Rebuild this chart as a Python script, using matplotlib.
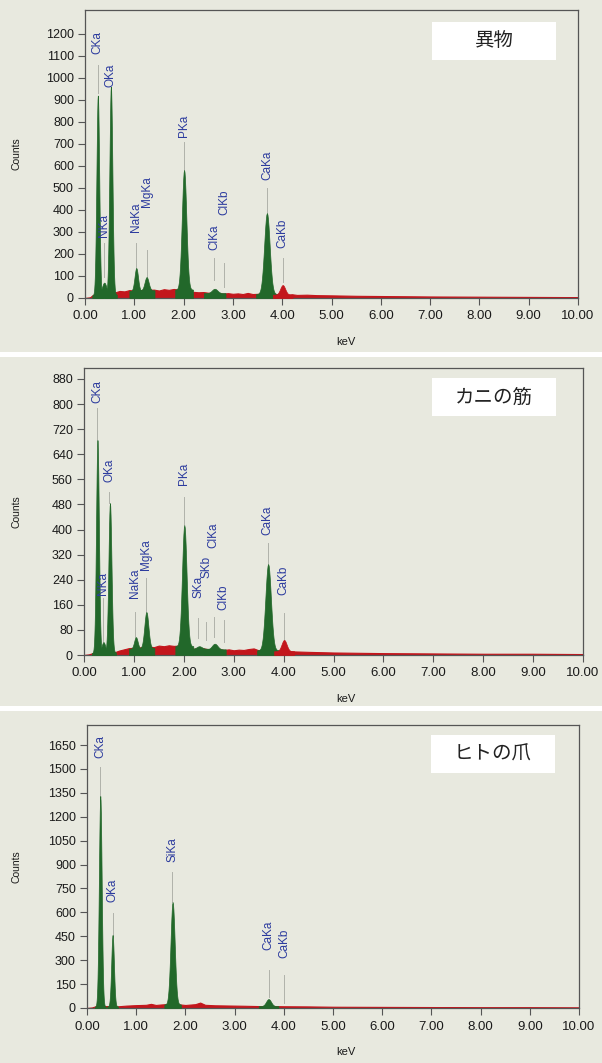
import numpy as np
import matplotlib
matplotlib.use('Agg')
import matplotlib.pyplot as plt
from matplotlib.patches import Rectangle

plt.rcParams['font.family'] = ['Liberation Sans', 'DejaVu Sans']

W, H = 602, 1063
PAPER = '#e8e9df'
GREEN = '#22682a'
RED = '#c3161c'
MARK_GREY = '#b0b2aa'
LABEL_BLUE = '#2c3b9e'

x_ticks = [0, 1, 2, 3, 4, 5, 6, 7, 8, 9, 10]

# ---- panel 1: 異物 ----
p1_title = '異物'
p1_yticks = [0, 100, 200, 300, 400, 500, 600, 700, 800, 900, 1000, 1100, 1200]
p1_bg_kev = [0.0, 0.1, 0.15, 0.2, 0.6, 0.7, 0.8, 0.9, 1.0, 1.15, 1.4, 1.5, 1.6, 1.7, 1.8, 1.9,
             2.1, 2.2, 2.3, 2.4, 2.5, 2.7, 2.8, 2.9, 3.0, 3.1, 3.2, 3.3, 3.4, 3.5, 3.8, 3.9,
             4.1, 4.2, 4.3, 4.5, 4.7, 5.0, 5.5, 6.0, 6.5, 7.0, 8.0, 9.0, 10.0]
p1_bg_counts = [0, 3, 12, 18, 25, 32, 30, 36, 33, 36, 38, 34, 40, 37, 41, 38,
                32, 28, 26, 27, 24, 22, 20, 22, 19, 21, 18, 23, 18, 19, 17, 16,
                15, 17, 14, 15, 13, 12, 10, 9, 8, 7, 6, 5, 4]
p1_peak_kev = [0.26, 0.39, 0.525, 1.04, 1.25, 2.01, 2.63, 3.69, 4.01]
p1_peak_counts = [920, 70, 960, 136, 95, 582, 42, 386, 59]
p1_peak_sigma = [0.028, 0.045, 0.03, 0.035, 0.04, 0.045, 0.055, 0.055, 0.05]
p1_peak_base = [12, 15, 15, 32, 35, 38, 22, 18, 15]
p1_peak_roi = [True, True, True, True, True, True, True, True, False]
p1_mark_names = ['CKa', 'NKa', 'OKa', 'NaKa', 'MgKa', 'PKa', 'ClKa', 'ClKb', 'CaKa', 'CaKb']
p1_mark_kev = [0.26, 0.38, 0.525, 1.03, 1.25, 2.0, 2.62, 2.82, 3.69, 4.01]
p1_mark_lo = [932, 95, 880, 114, 95, 582, 82, 50, 386, 73]
p1_mark_hi = [1059, 250, 940, 250, 218, 709, 182, 159, 500, 182]
p1_mark_text = [1110, 277, 959, 300, 414, 732, 218, 377, 536, 227]

# ---- panel 2: カニの筋 ----
p2_title = 'カニの筋'
p2_yticks = [0, 80, 160, 240, 320, 400, 480, 560, 640, 720, 800, 880]
p2_bg_kev = [0.0, 0.1, 0.2, 0.6, 0.7, 0.8, 0.9, 1.1, 1.3, 1.4, 1.5, 1.6, 1.7, 1.8, 1.9,
             2.1, 2.2, 2.4, 2.5, 2.7, 2.8, 2.9, 3.0, 3.1, 3.2, 3.3, 3.4, 3.5, 3.8,
             4.1, 4.3, 4.5, 5.0, 5.5, 6.0, 7.0, 8.0, 9.0, 10.0]
p2_bg_counts = [0, 2, 8, 8, 14, 18, 22, 24, 27, 25, 30, 28, 31, 29, 30,
                23, 20, 21, 18, 19, 16, 18, 15, 17, 16, 19, 21, 15, 14,
                12, 11, 10, 8, 7, 6, 5, 4, 4, 3]
p2_peak_kev = [0.27, 0.39, 0.52, 1.04, 1.25, 2.01, 2.31, 2.62, 3.69, 4.01]
p2_peak_counts = [685, 41, 484, 57, 137, 414, 28, 36, 290, 48]
p2_peak_sigma = [0.028, 0.035, 0.03, 0.035, 0.04, 0.045, 0.05, 0.055, 0.055, 0.05]
p2_peak_base = [6, 10, 8, 20, 22, 28, 20, 18, 15, 12]
p2_peak_roi = [True, True, True, True, True, True, True, True, True, False]
p2_mark_names = ['CKa', 'NKa', 'OKa', 'NaKa', 'MgKa', 'PKa', 'SKa', 'SKb', 'ClKa', 'ClKb', 'CaKa', 'CaKb']
p2_mark_kev = [0.27, 0.38, 0.51, 1.03, 1.24, 2.0, 2.29, 2.45, 2.6, 2.8, 3.68, 4.0]
p2_mark_lo = [685, 41, 484, 57, 137, 414, 54, 48, 57, 41, 287, 48]
p2_mark_hi = [787, 182, 519, 137, 245, 503, 118, 105, 121, 111, 357, 134]
p2_mark_text = [803, 191, 551, 182, 271, 542, 182, 245, 341, 143, 382, 191]

# ---- panel 3: ヒトの爪 ----
p3_title = 'ヒトの爪'
p3_yticks = [0, 150, 300, 450, 600, 750, 900, 1050, 1200, 1350, 1500, 1650]
p3_bg_kev = [0.0, 0.1, 0.2, 0.6, 0.8, 1.0, 1.2, 1.3, 1.4, 1.5, 1.6, 1.9, 2.0, 2.2, 2.3,
             2.4, 2.6, 2.8, 3.0, 3.2, 3.5, 3.8, 4.0, 4.5, 5.0, 6.0, 7.0, 8.0, 9.0, 10.0]
p3_bg_counts = [0, 3, 14, 10, 15, 18, 20, 26, 19, 22, 24, 22, 19, 24, 34,
                20, 17, 16, 15, 14, 12, 12, 11, 10, 8, 7, 6, 5, 5, 4]
p3_peak_kev = [0.27, 0.52, 1.74, 3.69]
p3_peak_counts = [1330, 458, 665, 56]
p3_peak_sigma = [0.028, 0.027, 0.042, 0.05]
p3_peak_base = [8, 10, 22, 12]
p3_peak_roi = [True, True, True, True]
p3_mark_names = ['CKa', 'OKa', 'SiKa', 'CaKa', 'CaKb']
p3_mark_kev = [0.27, 0.52, 1.73, 3.69, 4.01]
p3_mark_lo = [1330, 458, 665, 69, 31]
p3_mark_hi = [1512, 596, 853, 238, 207]
p3_mark_text = [1569, 665, 916, 364, 314]

# pixel layout of each scanned panel: axes left, right, top, bottom, ymax, title box
panels = [
    dict(title=p1_title, yticks=p1_yticks, ymax=1309, box=(85, 578, 10, 298), tbox=(432, 556, 22, 60),
         bg=(p1_bg_kev, p1_bg_counts),
         peaks=(p1_peak_kev, p1_peak_counts, p1_peak_sigma, p1_peak_base, p1_peak_roi),
         marks=(p1_mark_names, p1_mark_kev, p1_mark_lo, p1_mark_hi, p1_mark_text)),
    dict(title=p2_title, yticks=p2_yticks, ymax=915, box=(84, 583, 368, 655), tbox=(432, 556, 378, 416),
         bg=(p2_bg_kev, p2_bg_counts),
         peaks=(p2_peak_kev, p2_peak_counts, p2_peak_sigma, p2_peak_base, p2_peak_roi),
         marks=(p2_mark_names, p2_mark_kev, p2_mark_lo, p2_mark_hi, p2_mark_text)),
    dict(title=p3_title, yticks=p3_yticks, ymax=1776, box=(87, 579, 725, 1008), tbox=(431, 555, 735, 773),
         bg=(p3_bg_kev, p3_bg_counts),
         peaks=(p3_peak_kev, p3_peak_counts, p3_peak_sigma, p3_peak_base, p3_peak_roi),
         marks=(p3_mark_names, p3_mark_kev, p3_mark_lo, p3_mark_hi, p3_mark_text)),
]

fig = plt.figure(figsize=(W / 100, H / 100), dpi=100, facecolor=PAPER)

# white strips between the scanned panels
for y0, y1 in [(352, 357), (706, 711)]:
    fig.add_artist(Rectangle((0, 1 - y1 / H), 1, (y1 - y0) / H, transform=fig.transFigure,
                             fc='white', ec='none'))

offsets = np.linspace(-4, 4, 41)

for p in panels:
    left, right, top, bottom = p['box']
    ax = fig.add_axes([left / W, 1 - bottom / H, (right - left) / W, (bottom - top) / H])
    ax.set_facecolor(PAPER)
    ax.set_xlim(0, 10)
    ax.set_ylim(0, p['ymax'])

    # continuum
    bk, bc = p['bg']
    ax.fill_between(bk, 0, bc, color=RED, lw=0.8, zorder=2)

    # peaks: green inside ROI, red otherwise
    for c, h, s, b, roi in zip(*p['peaks']):
        px = c + offsets * s
        py = b + (h - b) * np.exp(-0.5 * offsets ** 2)
        col = GREEN if roi else RED
        ax.fill_between(px, 0, py, color=col, lw=0.5, zorder=3)

    # KLM markers
    for name, e, lo, hi, ty in zip(*p['marks']):
        ax.plot([e, e], [lo, hi], color=MARK_GREY, lw=0.7, zorder=1)
        ax.text(e, ty, name, rotation=90, ha='center', va='bottom', fontsize=8.5,
                color=LABEL_BLUE, zorder=4)

    ax.set_xticks(x_ticks)
    ax.set_xticklabels(['%.2f' % t for t in x_ticks])
    ax.set_yticks(p['yticks'])
    ax.tick_params(axis='both', direction='out', length=5, width=0.8, color='#555555',
                   labelcolor='#1a1a1a', pad=3)
    ax.tick_params(axis='x', labelsize=9.5, pad=4)
    ax.tick_params(axis='y', labelsize=9)
    for sp in ax.spines.values():
        sp.set_color('#555555')
        sp.set_linewidth(0.9)

    fig.text(17 / W, 1 - (top + bottom) / 2 / H, 'Counts', rotation=90, ha='center', va='center',
             fontsize=7.5, color='#1a1a1a')
    fig.text(346 / W, 1 - (bottom + 44) / H, 'keV', ha='center', va='center', fontsize=8,
             color='#1a1a1a')

    bx0, bx1, by0, by1 = p['tbox']
    fig.add_artist(Rectangle((bx0 / W, 1 - by1 / H), (bx1 - bx0) / W, (by1 - by0) / H,
                             transform=fig.transFigure, fc='white', ec='none', zorder=5))
    fig.text((bx0 + bx1) / 2 / W, 1 - (by0 + by1) / 2 / H, p['title'], ha='center', va='center',
             fontsize=14, family=['Noto Sans CJK JP', 'DejaVu Sans'], color='#222222', zorder=6)

fig.savefig('out.png', dpi=100, facecolor=PAPER)
